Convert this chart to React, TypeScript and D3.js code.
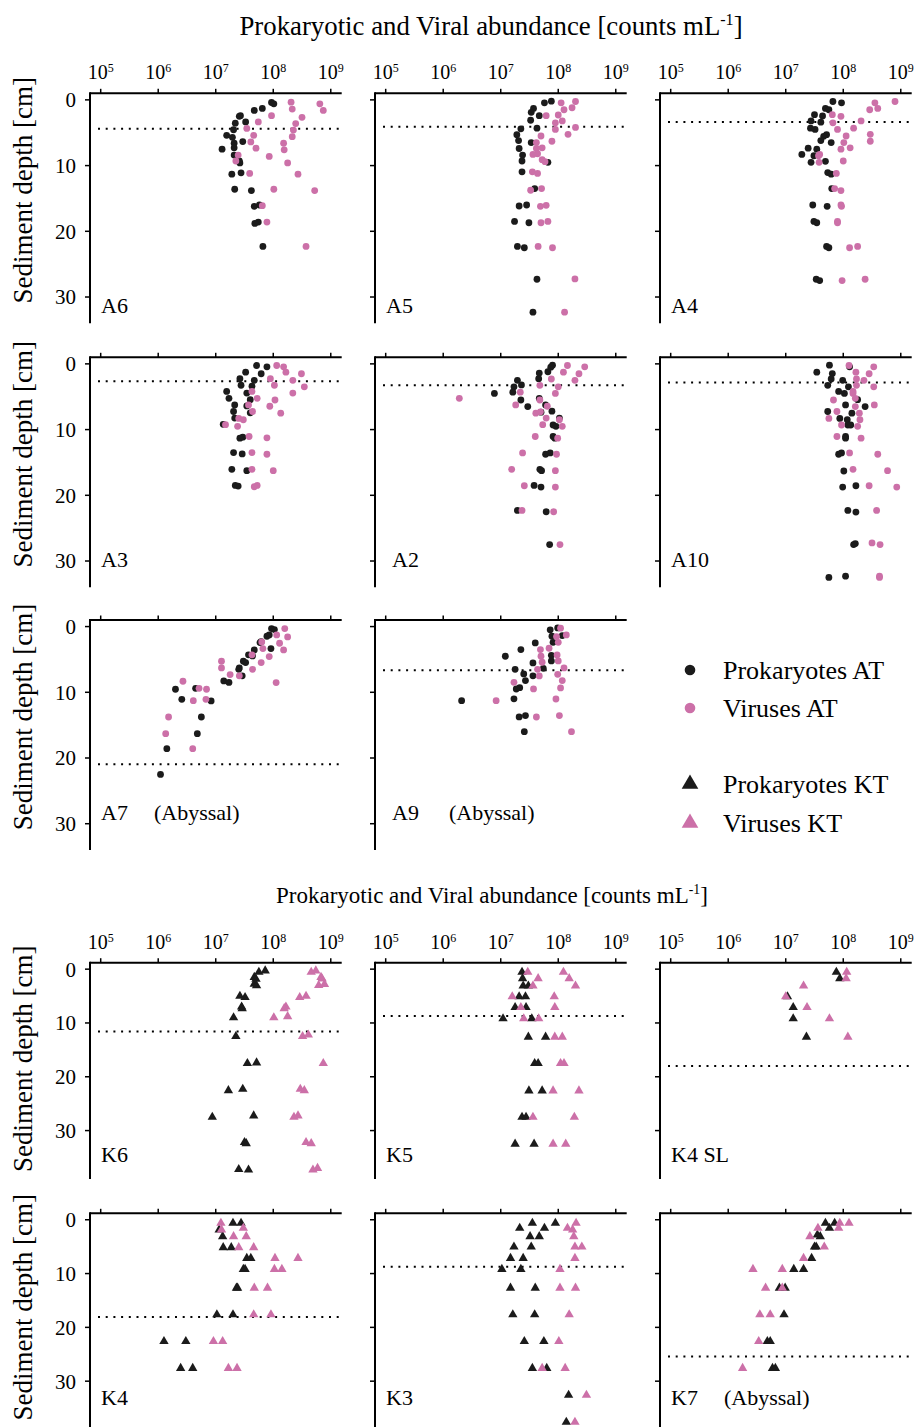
import React from 'react'
import * as d3 from 'd3'

// every point: [sediment depth (cm), log10 abundance (counts mL-1)]
type Pt = [number, number]

const A6_PROK: Pt[] = [[0.4,7.97],[0.6,8.01],[1.3,7.81],[1.6,7.67],[2.4,7.43],[2.5,7.41],[3.35,7.52],[3.55,7.34],[4.55,7.31],[5.4,7.19],[5.7,7.29],[6.35,7.47],[6.6,7.32],[7.3,7.32],[7.5,7.11],[8.4,7.32],[9.3,7.41],[9.6,7.42],[11.1,7.44],[11.3,7.28],[13.6,7.33],[13.8,7.62],[16.0,7.76],[16.2,7.67],[18.6,7.74],[18.8,7.68],[22.3,7.82]]
const A6_VIR: Pt[] = [[0.35,8.31],[0.6,8.81],[1.4,8.33],[1.6,8.87],[2.4,7.97],[2.65,8.5],[3.35,7.74],[3.6,8.39],[4.35,7.54],[4.6,8.35],[5.4,7.66],[5.6,8.33],[6.4,7.61],[6.6,8.18],[7.35,7.7],[7.6,8.19],[8.4,7.39],[8.6,7.93],[9.3,7.35],[9.6,8.25],[11.2,7.59],[11.3,8.43],[13.6,8.01],[13.8,8.72],[16.1,7.81],[18.6,7.89],[22.3,8.57]]

const A5_PROK: Pt[] = [[0.2,7.88],[0.45,7.76],[1.3,7.57],[1.9,7.53],[2.4,7.67],[3.1,7.52],[4.3,7.63],[4.4,7.35],[5.3,7.28],[6.2,7.31],[6.5,7.53],[7.4,7.32],[8.4,7.38],[9.3,7.37],[9.5,7.82],[10.95,7.37],[13.5,7.59],[16.0,7.45],[16.15,7.32],[18.5,7.24],[18.7,7.49],[22.3,7.29],[22.5,7.41],[27.3,7.63],[32.3,7.56]]
const A5_VIR: Pt[] = [[0.25,8.3],[0.45,8.05],[1.2,8.24],[1.5,8.1],[2.3,8.0],[2.4,7.79],[3.2,8.07],[3.5,7.95],[4.2,8.3],[4.5,7.95],[5.25,8.17],[5.5,7.7],[6.3,7.89],[6.5,7.62],[7.3,7.72],[7.4,7.62],[8.2,7.64],[8.3,7.56],[9.1,7.72],[9.4,7.77],[10.95,7.55],[11.2,7.64],[13.5,7.71],[13.75,7.52],[16.05,7.79],[16.2,7.69],[18.5,7.82],[18.7,7.7],[22.3,7.65],[22.5,7.9],[27.25,8.29],[32.3,8.11]]

const A4_PROK: Pt[] = [[0.25,7.82],[0.45,7.97],[1.3,7.69],[1.5,7.75],[2.25,7.5],[2.45,7.64],[3.2,7.44],[3.4,7.61],[4.3,7.43],[4.5,7.51],[5.3,7.71],[5.55,7.66],[6.2,7.61],[6.5,7.79],[7.35,7.39],[7.5,7.54],[8.3,7.28],[8.5,7.49],[9.35,7.69],[9.5,7.44],[11.07,7.73],[11.3,7.79],[13.5,7.8],[16.0,7.47],[16.2,7.72],[18.5,7.49],[18.7,7.54],[22.3,7.71],[22.5,7.75],[27.3,7.53],[27.5,7.59]]
const A4_VIR: Pt[] = [[0.25,8.9],[0.45,8.55],[1.3,8.6],[1.5,8.46],[2.25,7.81],[2.5,7.96],[3.2,8.31],[3.5,7.82],[4.3,8.18],[4.5,7.9],[5.25,8.47],[5.5,8.05],[6.3,8.47],[6.5,8.01],[7.3,8.12],[7.5,7.96],[8.3,7.59],[8.5,7.57],[9.3,8.0],[9.5,7.58],[11.2,7.88],[13.5,7.85],[13.8,7.96],[16.0,7.96],[16.2,7.97],[18.5,7.9],[18.7,7.9],[22.3,8.25],[22.5,8.11],[27.3,8.38],[27.5,7.98]]

const A3_PROK: Pt[] = [[0.25,7.71],[0.45,7.89],[1.27,7.52],[1.5,7.79],[2.25,7.42],[2.5,7.67],[3.25,7.44],[3.4,7.63],[4.2,7.19],[4.45,7.54],[5.25,7.23],[5.45,7.6],[6.25,7.33],[6.4,7.54],[7.25,7.31],[7.45,7.6],[8.25,7.33],[9.2,7.13],[11.15,7.47],[11.3,7.42],[13.5,7.31],[13.7,7.46],[16.05,7.28],[16.25,7.54],[18.5,7.34],[18.6,7.39]]
const A3_VIR: Pt[] = [[0.25,8.06],[0.45,8.18],[1.27,8.22],[1.5,8.49],[2.25,7.95],[2.5,8.34],[3.25,8.02],[3.5,8.54],[4.2,7.63],[4.45,8.34],[5.25,7.72],[5.5,8.03],[6.25,7.57],[6.45,7.94],[7.25,7.64],[7.5,8.13],[8.3,7.4],[8.5,7.48],[9.25,7.17],[9.5,7.38],[11.05,7.58],[11.25,7.89],[13.5,7.63],[13.75,7.89],[16.05,7.63],[16.25,8.0],[18.5,7.72],[18.7,7.67]]

const A2_PROK: Pt[] = [[0.2,7.9],[0.5,7.87],[1.2,7.82],[1.4,7.67],[2.25,7.66],[2.5,7.29],[3.2,7.36],[3.5,7.23],[4.3,7.21],[4.5,6.89],[5.25,7.67],[5.5,7.35],[6.25,7.78],[6.5,7.47],[7.2,7.89],[7.35,7.7],[8.25,8.02],[9.3,7.91],[9.5,7.96],[11.05,7.91],[11.3,7.94],[13.55,7.86],[13.75,7.78],[16.05,7.68],[16.25,7.71],[18.5,7.58],[18.75,7.7],[22.3,7.29],[22.5,7.79],[27.5,7.85]]
const A2_VIR: Pt[] = [[0.25,8.16],[0.45,8.46],[1.27,8.09],[1.5,8.36],[2.3,7.88],[2.5,8.29],[3.26,7.68],[3.5,8.0],[4.3,7.34],[4.5,7.95],[5.25,6.28],[5.5,7.68],[6.25,7.26],[6.45,7.81],[7.3,7.69],[7.5,7.61],[8.25,7.79],[8.5,8.02],[9.25,7.73],[9.5,8.07],[11.05,7.6],[11.3,7.99],[13.55,7.38],[13.75,7.97],[16.05,7.19],[16.25,7.95],[18.55,7.41],[18.75,7.95],[22.3,7.37],[22.5,7.92],[27.5,8.03]]

const A10_PROK: Pt[] = [[0.2,7.76],[0.45,8.11],[1.27,7.54],[1.48,7.81],[2.3,7.79],[2.5,7.99],[3.26,7.73],[3.5,8.09],[4.2,7.92],[4.5,8.02],[5.45,8.25],[6.25,8.04],[6.5,8.38],[7.25,7.73],[7.5,8.15],[8.3,7.94],[8.5,8.07],[9.3,8.08],[9.3,8.13],[11.05,8.04],[11.3,8.04],[13.55,7.97],[13.75,7.92],[16.3,8.01],[18.55,8.22],[18.75,7.99],[22.3,8.08],[22.55,8.22],[27.35,8.21],[27.5,8.18],[32.3,8.04],[32.5,7.75]]
const A10_VIR: Pt[] = [[0.25,8.1],[0.45,8.53],[1.27,8.22],[1.5,8.45],[2.3,8.23],[2.5,8.36],[3.26,8.23],[3.5,8.53],[4.2,8.17],[4.5,8.17],[5.25,8.21],[5.5,7.83],[6.25,8.54],[6.5,8.21],[7.25,7.89],[7.5,8.28],[8.3,7.75],[8.5,8.29],[9.3,7.97],[9.5,8.25],[11.05,7.89],[11.3,8.31],[13.55,8.11],[13.75,8.6],[16.05,8.17],[16.25,8.77],[18.55,8.45],[18.75,8.93],[22.3,8.58],[27.25,8.5],[27.5,8.64],[32.3,8.63],[32.5,8.63]]

const A7_PROK: Pt[] = [[0.3,7.97],[0.45,8.02],[1.27,7.93],[1.47,7.89],[2.28,7.79],[2.44,7.77],[3.35,7.96],[3.55,7.67],[4.3,7.57],[4.47,7.64],[5.28,7.48],[5.48,7.52],[6.3,7.41],[6.5,7.4],[7.5,7.46],[8.27,7.14],[8.5,7.23],[9.39,6.65],[9.54,6.3],[11.07,6.41],[11.32,6.92],[13.76,6.75],[16.3,6.68],[18.58,6.15],[22.5,6.04]]
const A7_VIR: Pt[] = [[0.3,8.2],[1.27,8.06],[1.57,8.25],[2.34,7.8],[2.54,8.11],[3.35,7.82],[3.55,8.18],[4.3,7.63],[4.57,7.93],[5.28,7.1],[5.48,7.79],[6.3,7.1],[6.5,7.64],[7.3,7.25],[7.5,7.41],[8.32,6.43],[8.52,8.05],[9.39,6.71],[9.54,6.84],[11.07,6.83],[11.27,6.61],[13.76,6.18],[16.3,6.13],[18.58,6.6]]

const A9_PROK: Pt[] = [[0.2,7.99],[0.5,7.86],[1.37,8.07],[1.47,7.89],[2.39,7.91],[2.49,7.6],[3.5,7.35],[4.37,7.88],[4.52,7.08],[5.23,7.88],[5.53,7.56],[6.35,7.74],[6.5,7.25],[7.2,7.4],[7.5,7.56],[8.22,7.43],[9.3,7.33],[9.5,7.27],[11.0,7.23],[11.27,6.32],[13.55,7.43],[13.75,7.32],[16.0,7.41]]
const A9_VIR: Pt[] = [[0.25,8.04],[1.27,8.14],[1.52,7.97],[2.39,8.0],[3.3,7.84],[3.5,7.69],[4.31,7.98],[4.52,7.7],[5.23,8.0],[5.43,7.72],[6.3,8.1],[6.5,7.64],[7.26,7.99],[7.51,7.67],[8.22,8.07],[8.48,7.23],[9.34,8.04],[9.49,7.57],[11.02,7.96],[11.27,6.92],[13.55,8.02],[13.76,7.62],[15.99,8.23]]

const K6_PROK: Pt[] = [[0.3,7.86],[0.55,7.75],[1.5,7.67],[1.85,7.7],[2.75,7.67],[3.05,7.71],[5.0,7.42],[5.25,7.51],[7.0,7.45],[7.3,7.46],[9.0,7.31],[12.5,7.35],[17.4,7.71],[17.5,7.55],[22.3,7.47],[22.55,7.22],[27.25,7.66],[27.5,6.94],[32.2,7.5],[32.4,7.53],[37.2,7.4],[37.3,7.57]]
const K6_VIR: Pt[] = [[0.3,8.74],[0.55,8.66],[1.5,8.83],[1.8,8.85],[2.8,8.89],[3.0,8.79],[5.0,8.57],[5.25,8.46],[7.0,8.22],[7.3,8.19],[8.8,8.25],[9.0,8.01],[12.2,8.61],[12.5,8.51],[17.5,8.87],[22.3,8.47],[22.55,8.54],[27.25,8.43],[27.5,8.36],[32.2,8.57],[32.4,8.66],[37.0,8.77],[37.3,8.69]]

const K5_PROK: Pt[] = [[0.56,7.37],[1.74,7.38],[3.1,7.39],[3.1,7.48],[5.1,7.32],[5.1,7.43],[7.1,7.25],[7.1,7.44],[9.2,7.04],[9.2,7.54],[12.6,7.48],[12.6,7.78],[17.5,7.59],[17.5,7.65],[22.6,7.49],[22.6,7.72],[27.5,7.37],[27.5,7.44],[32.5,7.25],[32.5,7.58]]
const K5_VIR: Pt[] = [[0.56,7.47],[0.56,8.09],[1.74,7.65],[1.74,8.19],[3.1,7.56],[3.1,8.3],[5.1,7.2],[5.1,7.93],[7.1,7.35],[7.1,7.94],[9.2,7.4],[9.2,7.66],[12.6,7.94],[12.6,8.07],[17.5,8.04],[17.5,8.1],[22.6,7.91],[22.6,8.36],[27.5,7.56],[27.5,8.28],[32.5,7.91],[32.5,8.13]]

const K4SL_PROK: Pt[] = [[0.56,7.88],[1.74,7.94],[5.1,7.03],[7.1,7.13],[9.2,7.13],[12.6,7.36]]
const K4SL_VIR: Pt[] = [[0.56,8.06],[1.74,8.05],[3.1,7.31],[5.1,7.0],[7.1,7.37],[9.2,7.76],[12.6,8.08]]

const K4_PROK: Pt[] = [[0.62,7.3],[0.62,7.44],[1.86,7.06],[3.1,7.12],[5.16,7.13],[5.16,7.27],[7.14,7.54],[7.14,7.61],[9.2,7.48],[9.2,7.51],[12.67,7.36],[12.67,7.38],[17.64,7.02],[17.64,7.3],[22.6,6.1],[22.6,6.48],[27.6,6.39],[27.6,6.6]]
const K4_VIR: Pt[] = [[0.62,7.09],[1.55,7.48],[1.86,7.1],[3.1,7.31],[3.1,7.53],[5.16,7.4],[5.16,7.66],[7.14,8.03],[7.14,8.43],[9.2,8.02],[9.2,8.15],[12.67,7.67],[12.67,7.9],[17.64,7.66],[17.64,7.96],[22.6,6.96],[22.6,7.12],[27.6,7.22],[27.6,7.37]]

const K3_PROK: Pt[] = [[0.62,7.55],[0.62,7.95],[1.55,7.33],[1.55,7.76],[3.1,7.51],[3.1,7.67],[5.03,7.23],[5.03,7.53],[7.14,7.17],[7.14,7.39],[9.19,7.02],[9.19,7.35],[12.67,7.17],[12.67,7.6],[17.64,7.21],[17.64,7.59],[22.6,7.41],[22.6,7.75],[27.6,7.55],[27.6,7.8],[32.6,8.18],[37.6,8.14]]
const K3_VIR: Pt[] = [[0.62,8.31],[1.55,8.16],[1.86,8.25],[3.1,8.27],[5.03,8.29],[5.03,8.41],[7.14,8.29],[9.19,8.03],[12.67,8.03],[12.67,8.3],[17.64,8.19],[22.6,8.01],[27.6,7.72],[27.6,8.12],[32.6,8.49],[37.6,8.29]]

const K7_PROK: Pt[] = [[0.62,7.69],[0.62,7.85],[1.55,7.76],[2.8,7.55],[3.1,7.6],[5.03,7.5],[5.03,7.53],[7.14,7.45],[9.19,7.14],[9.19,7.31],[12.67,6.89],[12.67,6.99],[17.64,6.97],[22.6,6.68],[22.6,6.73],[27.6,6.77],[27.6,6.82]]
const K7_VIR: Pt[] = [[0.62,7.94],[0.62,8.1],[1.55,7.56],[1.55,7.92],[3.1,7.42],[5.03,7.67],[7.14,7.31],[9.19,6.43],[9.19,6.94],[12.67,6.65],[12.67,6.94],[17.64,6.55],[17.64,6.73],[22.6,6.53],[27.6,6.25]]

const AT_STATIONS = ['A6', 'A5', 'A4', 'A3', 'A2', 'A10', 'A7', 'A9']
const AT_PROK = [A6_PROK, A5_PROK, A4_PROK, A3_PROK, A2_PROK, A10_PROK, A7_PROK, A9_PROK]
const AT_VIR = [A6_VIR, A5_VIR, A4_VIR, A3_VIR, A2_VIR, A10_VIR, A7_VIR, A9_VIR]
const AT_REDOX = [4.4, 4.1, 3.35, 2.65, 3.26, 2.85, 20.95, 6.65] // dotted line depth, cm
const AT_NOTE = ['', '', '', '', '', '', '(Abyssal)', '(Abyssal)']

const KT_STATIONS = ['K6', 'K5', 'K4 SL', 'K4', 'K3', 'K7']
const KT_PROK = [K6_PROK, K5_PROK, K4SL_PROK, K4_PROK, K3_PROK, K7_PROK]
const KT_VIR = [K6_VIR, K5_VIR, K4SL_VIR, K4_VIR, K3_VIR, K7_VIR]
const KT_REDOX = [11.6, 8.7, 18.0, 18.06, 8.75, 25.4]
const KT_NOTE = ['', '', '', '', '', '(Abyssal)']

const X_EXP = [5, 6, 7, 8, 9]
const DEPTH_TICKS = [0, 10, 20, 30]
const LEGEND = ['Prokaryotes AT', 'Viruses AT', 'Prokaryotes KT', 'Viruses KT']

// layout
const FONT = '"Liberation Serif", "Times New Roman", Times, serif'
const BLACK = '#1b1b1b'
const PINK = '#cc70a8'
const COL_X = [90, 375, 660]
const PANEL_W = 251.7
const X_DOMAIN = [10 ** 4.814, 10 ** 9.19]
const TOP = { rows: [93.3, 357.3, 620], height: 230, domain: [-1, 34], labelY: [313, 567, 820] }
const BOT = { rows: [962.7, 1213.3], height: 216.3, domain: [-1.2, 39], labelY: [1161.5, 1404.5] }

const tri = d3.symbol().type(d3.symbolTriangle).size(38)() as string
const triBig = d3.symbol().type(d3.symbolTriangle).size(120)() as string

function Panel(props: any) {
  const { col, top, height, domain, prok, vir, shape, redox, label, note, labelY, xLabels, yLabels } = props
  const x0 = COL_X[col]
  const x = d3.scaleLog().domain(X_DOMAIN).range([x0, x0 + PANEL_W])
  const y = d3.scaleLinear().domain(domain).range([top, top + height])

  const mark = (d: Pt, color: string, k: string) =>
    shape === 'circle'
      ? <circle key={k} cx={x(10 ** d[1])} cy={y(d[0])} r={3.4} fill={color} />
      : <path key={k} d={tri} transform={`translate(${x(10 ** d[1])},${y(d[0])})`} fill={color} />

  const labelDx = label === 'A2' || label === 'A9' ? 17 : 11
  const noteDx = label === 'A9' ? 74 : 64

  return (
    <g>
      <line x1={x0} x2={x0 + PANEL_W} y1={top} y2={top} stroke="#000" strokeWidth={2} />
      <line x1={x0} x2={x0} y1={top - 1} y2={top + height} stroke="#000" strokeWidth={2} />
      {X_EXP.map(e => (
        <g key={e}>
          <line x1={x(10 ** e)} x2={x(10 ** e)} y1={top} y2={top - 4.5} stroke="#000" strokeWidth={1.5} />
          {xLabels && (
            <text x={x(10 ** e)} y={top - 14} textAnchor="middle" fontSize={20}>
              10<tspan fontSize={12} dy={-7}>{e}</tspan>
            </text>
          )}
        </g>
      ))}
      {DEPTH_TICKS.map(t => (
        <g key={t}>
          <line x1={x0} x2={x0 - 5} y1={y(t)} y2={y(t)} stroke="#000" strokeWidth={1.5} />
          {yLabels && (
            <text x={x0 - 14} y={y(t)} dy="0.35em" textAnchor="end" fontSize={21}>{t}</text>
          )}
        </g>
      ))}
      <line x1={x0 + 8} x2={x0 + PANEL_W - 1} y1={y(redox)} y2={y(redox)}
        stroke="#000" strokeWidth={2} strokeDasharray="2 5.7" />
      {prok.map((d: Pt, i: number) => mark(d, BLACK, 'p' + i))}
      {vir.map((d: Pt, i: number) => mark(d, PINK, 'v' + i))}
      <text x={x0 + labelDx} y={labelY} fontSize={22}>{label}</text>
      {note && <text x={x0 + noteDx} y={labelY} fontSize={22}>{note}</text>}
    </g>
  )
}

function Title({ x, y, size }: { x: number, y: number, size: number }) {
  return (
    <text x={x} y={y} textAnchor="middle" fontSize={size}>
      Prokaryotic and Viral abundance [counts mL
      <tspan fontSize={size * 0.6} dy={-size * 0.38}>-1</tspan>
      <tspan dy={size * 0.38}>]</tspan>
    </text>
  )
}

function YTitle({ cy }: { cy: number }) {
  return (
    <text transform={`translate(32,${cy}) rotate(-90)`} textAnchor="middle" fontSize={27}>
      Sediment depth [cm]
    </text>
  )
}

export default function App() {
  const legendY = [670, 708, 784, 823]
  return (
    <svg width={919} height={1427} fontFamily={FONT}
      style={{ position: 'absolute', left: 0, top: 0, display: 'block', background: '#fff' }}>
      <rect width={919} height={1427} fill="#fff" />
      <Title x={491} y={35} size={26.8} />
      {AT_STATIONS.map((s, i) => {
        const row = Math.floor(i / 3)
        const col = i % 3
        return (
          <Panel key={s} col={col} top={TOP.rows[row]} height={TOP.height} domain={TOP.domain}
            prok={AT_PROK[i]} vir={AT_VIR[i]} shape="circle" redox={AT_REDOX[i]}
            label={s} note={AT_NOTE[i]} labelY={TOP.labelY[row]}
            xLabels={row === 0} yLabels={col === 0} />
        )
      })}
      {TOP.rows.map(r => <YTitle key={r} cy={r + 97} />)}

      {LEGEND.map((t, i) => (
        <g key={t}>
          {i < 2
            ? <circle cx={690} cy={legendY[i]} r={5.3} fill={i % 2 ? PINK : BLACK} />
            : <path d={triBig} transform={`translate(690,${legendY[i]})`} fill={i % 2 ? PINK : BLACK} />}
          <text x={723} y={legendY[i]} dy="0.33em" fontSize={26}>{t}</text>
        </g>
      ))}

      <Title x={492} y={903} size={23} />
      {KT_STATIONS.map((s, i) => {
        const row = Math.floor(i / 3)
        const col = i % 3
        return (
          <Panel key={s} col={col} top={BOT.rows[row]} height={BOT.height} domain={BOT.domain}
            prok={KT_PROK[i]} vir={KT_VIR[i]} shape="triangle" redox={KT_REDOX[i]}
            label={s} note={KT_NOTE[i]} labelY={BOT.labelY[row]}
            xLabels={row === 0} yLabels={col === 0} />
        )
      })}
      {BOT.rows.map((r, i) => <YTitle key={r} cy={r + (i === 0 ? 96 : 94)} />)}
    </svg>
  )
}
